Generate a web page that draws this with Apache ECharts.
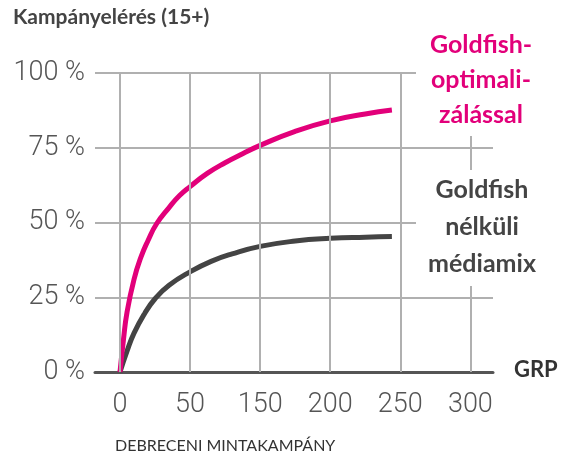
<!DOCTYPE html>
<html>
<head>
<meta charset="utf-8">
<script src="https://cdn.jsdelivr.net/npm/echarts@6/dist/echarts.min.js"></script>
<style>
  html, body { margin: 0; padding: 0; background: #fff; }
  #chart { width: 562px; height: 461px; }
</style>
</head>
<body>
<div id="chart"></div>
<script>
// x positions are in axis slots (one slot = one tick label step)
const xLabels = ['0', '50', '150', '200', '250', '300'];
const yTicks = [0, 25, 50, 75, 100];

const goldfishX = [0, 0.05, 0.1, 0.2, 0.3, 0.4, 0.52, 0.7, 0.85, 1.0, 1.25, 1.5, 1.75, 2.0, 2.5, 3.0, 3.5, 3.88];
const goldfishY = [0, 11, 20, 31, 38.5, 44, 49.5, 55, 59, 62, 66.5, 70, 73, 75.8, 80.5, 84, 86.3, 87.6];

const mixX = [0, 0.1, 0.2, 0.35, 0.5, 0.7, 1.0, 1.3, 1.6, 2.0, 2.5, 3.0, 3.5, 3.88];
const mixY = [0, 7, 13, 19.5, 24.5, 29, 33.5, 37, 39.5, 42, 43.8, 44.7, 45.1, 45.3];

const PINK = '#e2007a';
const DARK = '#444444';
const GRID = '#b0b0b0';

const chart = echarts.init(document.getElementById('chart'));

const pairs = (xs, ys) => xs.map((x, i) => [x, ys[i]]);

chart.setOption({
    animation: false,
    grid: {left: 95, right: 69, top: 73, bottom: 89},
    xAxis: {
        type: 'value',
        min: -0.357,
        max: 5.323,
        splitLine: {show: false},
        axisTick: {show: false},
        axisLine: {show: true, lineStyle: {color: '#555', width: 3}},
        axisLabel: {
            customValues: [0, 1, 2, 3, 4, 5],
            formatter: v => xLabels[Math.round(v)],
            margin: 20,
            fontFamily: 'Roboto',
            fontWeight: 300,
            fontSize: 27,
            color: '#555'
        }
    },
    yAxis: {
        type: 'value',
        min: 0,
        max: 100,
        interval: 25,
        axisLine: {show: false},
        axisTick: {show: false},
        splitLine: {lineStyle: {color: GRID, width: 2}},
        axisLabel: {
            formatter: v => yTicks.includes(v) ? v + ' %' : '',
            margin: 10,
            fontFamily: 'Roboto',
            fontWeight: 300,
            fontSize: 27,
            color: '#555'
        }
    },
    series: [
        {
            type: 'line',
            data: [],
            silent: true,
            markLine: {
                silent: true,
                symbol: 'none',
                label: {show: false},
                lineStyle: {type: 'solid', color: GRID, width: 2},
                data: xLabels.map((l, i) => ({xAxis: i}))
            },
            z: 1
        },
        {
            name: 'Goldfish nélküli médiamix',
            type: 'line',
            smooth: 0.5,
            symbol: 'none',
            data: pairs(mixX, mixY),
            lineStyle: {color: DARK, width: 5, cap: 'butt'},
            z: 3
        },
        {
            name: 'Goldfish-optimalizálással',
            type: 'line',
            smooth: 0.5,
            symbol: 'none',
            data: pairs(goldfishX, goldfishY),
            lineStyle: {color: PINK, width: 5, cap: 'butt'},
            z: 4
        }
    ],
    graphic: [
        {type: 'rect', shape: {x: 416, y: 20, width: 146, height: 116}, style: {fill: '#fff'}, z: 50},
        {type: 'rect', shape: {x: 416, y: 170, width: 146, height: 116}, style: {fill: '#fff'}, z: 50},
        {
            type: 'text', left: 13, top: 7, z: 60,
            style: {text: 'Kampányelérés (15+)', fontFamily: 'Lato', fontWeight: 'bold', fontSize: 21, fill: '#444'}
        },
        {
            type: 'text', x: 481, y: 27, z: 60,
            style: {
                text: 'Goldfish-\noptimali-\nzálással', align: 'center',
                fontFamily: 'Lato', fontWeight: 'bold', fontSize: 25, lineHeight: 35, fill: PINK
            }
        },
        {
            type: 'text', x: 482, y: 171, z: 60,
            style: {
                text: 'Goldfish\nnélküli\nmédiamix', align: 'center',
                fontFamily: 'Lato', fontWeight: 'bold', fontSize: 25, lineHeight: 37, fill: DARK
            }
        },
        {
            type: 'text', x: 514, y: 359, z: 60,
            style: {text: 'GRP', fontFamily: 'Lato', fontWeight: 'bold', fontSize: 22, fill: '#333'}
        },
        {
            type: 'text', x: 115, y: 438, z: 60,
            style: {text: 'DEBRECENI MINTAKAMPÁNY', fontFamily: 'Lato', fontSize: 16, fill: '#333'}
        }
    ]
});
</script>
</body>
</html>
